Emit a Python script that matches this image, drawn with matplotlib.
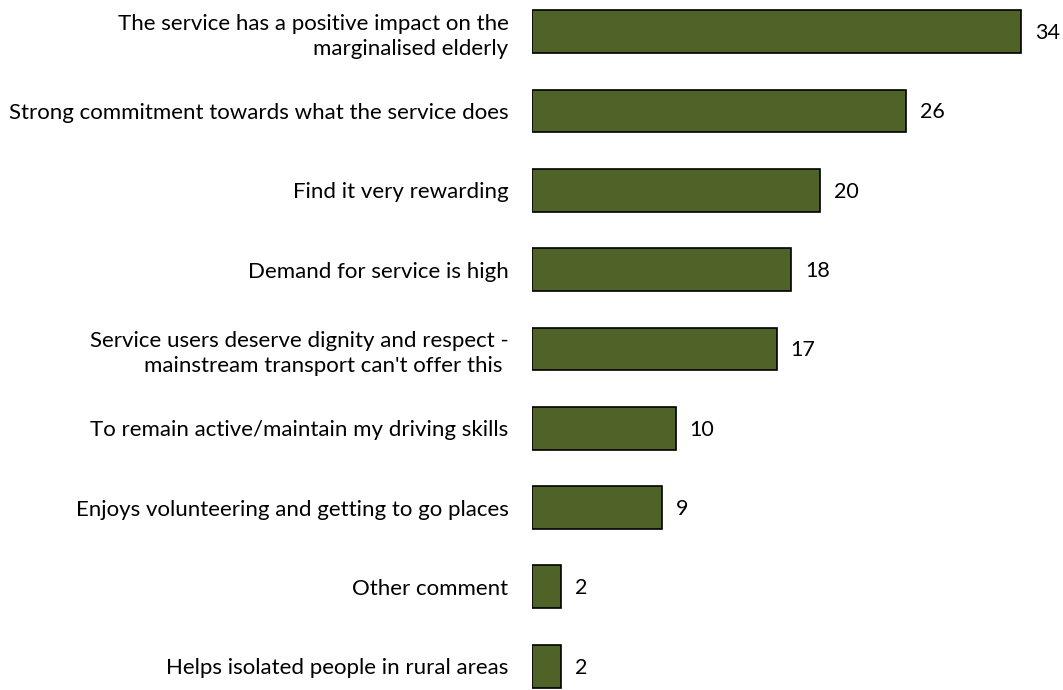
import matplotlib
matplotlib.use("Agg")
import matplotlib.pyplot as plt

categories = [
    "The service has a positive impact on the\nmarginalised elderly",
    "Strong commitment towards what the service does",
    "Find it very rewarding",
    "Demand for service is high",
    "Service users deserve dignity and respect -\nmainstream transport can't offer this ",
    "To remain active/maintain my driving skills",
    "Enjoys volunteering and getting to go places",
    "Other comment",
    "Helps isolated people in rural areas",
]
counts = [34, 26, 20, 18, 17, 10, 9, 2, 2]

plt.rcParams["font.family"] = ["Lato", "DejaVu Sans"]

fig = plt.figure(figsize=(10.63, 6.9), dpi=100)
ax = fig.add_axes([532 / 1063, 0, 1 - 532 / 1063, 1])

pos = list(range(len(categories)))
bars = ax.barh(pos, counts, height=0.54, color="#4F6228", edgecolor="black", linewidth=1.2)

for b, v in zip(bars, counts):
    ax.annotate(str(v), (b.get_width(), b.get_y() + b.get_height() / 2),
                xytext=(10, -1), textcoords="offset points",
                va="center", ha="left", fontsize=15.5, color="black")

ax.set_xlim(0, 36.9)
ax.set_ylim(8.3, -0.4)
ax.set_yticks(pos)
ax.set_yticklabels(categories, fontsize=16, linespacing=1.3)
ax.tick_params(axis="y", length=0, pad=17)
ax.set_xticks([])
for s in ax.spines.values():
    s.set_visible(False)

fig.savefig("out.png", dpi=100)
